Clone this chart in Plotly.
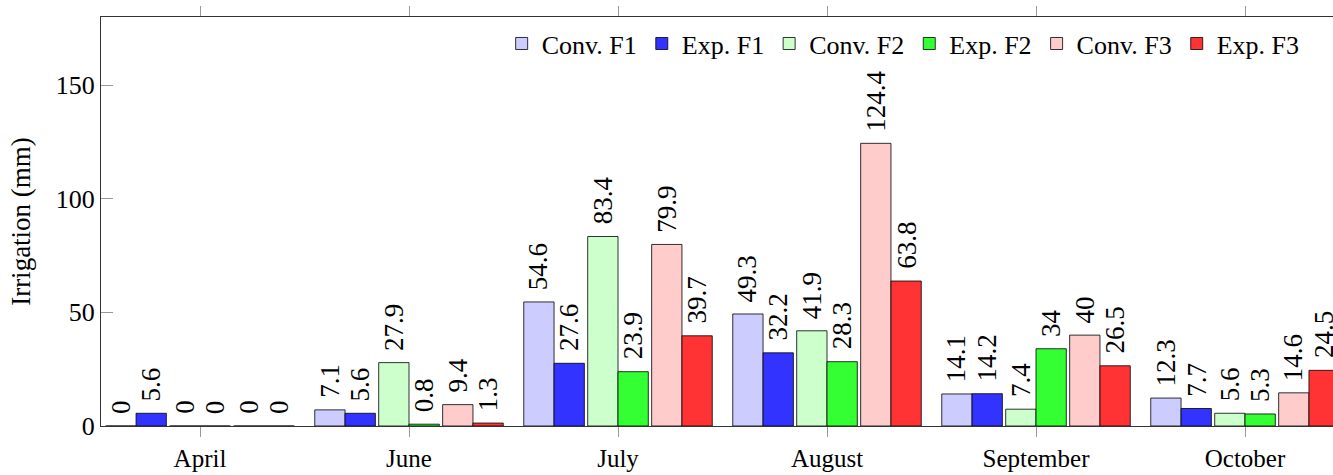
import plotly.graph_objects as go

months = ["April", "June", "July", "August", "September", "October"]
series_names = ["Conv. F1", "Exp. F1", "Conv. F2", "Exp. F2", "Conv. F3", "Exp. F3"]
conv_f1 = [0, 7.1, 54.6, 49.3, 14.1, 12.3]
exp_f1 = [5.6, 5.6, 27.6, 32.2, 14.2, 7.7]
conv_f2 = [0, 27.9, 83.4, 41.9, 7.4, 5.6]
exp_f2 = [0, 0.8, 23.9, 28.3, 34, 5.3]
conv_f3 = [0, 9.4, 79.9, 124.4, 40, 14.6]
exp_f3 = [0, 1.3, 39.7, 63.8, 26.5, 24.5]

series_values = [conv_f1, exp_f1, conv_f2, exp_f2, conv_f3, exp_f3]
colors = ["#ccccff", "#3333ff", "#ccffcc", "#33ff33", "#ffcccc", "#ff3333"]

FONT = "'Liberation Serif', 'Times New Roman', Times, serif"
bar_w = 0.145
pair_pitch = 0.306

fig = go.Figure()
annotations = []
for i, (name, vals, col) in enumerate(zip(series_names, series_values, colors)):
    k = i // 2 - 1
    j = i % 2
    off = k * pair_pitch + (j - 1) * bar_w
    fig.add_trace(go.Bar(
        x=months, y=vals, name=name,
        offset=off, width=bar_w,
        marker=dict(color=col, line=dict(color="rgba(0,0,0,0.8)", width=1)),
    ))
    for idx, v in enumerate(vals):
        annotations.append(dict(
            x=idx + off + bar_w / 2, y=v, xref="x", yref="y",
            text=f"{v:g}", textangle=-90, showarrow=False,
            xanchor="center", yanchor="bottom", yshift=10,
            font=dict(family=FONT, size=27, color="black"),
        ))

fig.update_layout(
    width=1333, height=475,
    margin=dict(l=101, r=0, t=17, b=49, autoexpand=False),
    barmode="overlay",
    plot_bgcolor="white", paper_bgcolor="white",
    font=dict(family=FONT, size=24, color="black"),
    annotations=annotations,
    showlegend=True,
    legend=dict(
        orientation="h", x=0.977, xanchor="right", y=0.935, yanchor="middle",
        font=dict(family=FONT, size=26, color="black"),
        bgcolor="rgba(0,0,0,0)", itemwidth=30, tracegroupgap=0,
    ),
    xaxis=dict(
        type="category", range=[-0.4737, 5.421], automargin=False,
        showline=True, linecolor="#333", linewidth=1, mirror="ticks",
        ticks="outside", ticklen=10, tickcolor="#999", tickwidth=1,
        showgrid=False, zeroline=False, ticklabelstandoff=0,
        tickfont=dict(family=FONT, size=25),
    ),
    yaxis=dict(
        range=[0, 180], dtick=50, tick0=0, automargin=False,
        showline=True, linecolor="#333", linewidth=1, mirror=False,
        ticks="inside", ticklen=12, tickcolor="#999", tickwidth=1,
        showgrid=False, zeroline=False,
        tickfont=dict(family=FONT, size=26),
        title=dict(text="Irrigation (mm)", font=dict(family=FONT, size=27), standoff=17),
    ),
)

fig.write_html(
    "out.html",
    config={"displayModeBar": False},
    post_script="document.body.style.margin='0px';document.body.style.overflow='hidden';",
)
